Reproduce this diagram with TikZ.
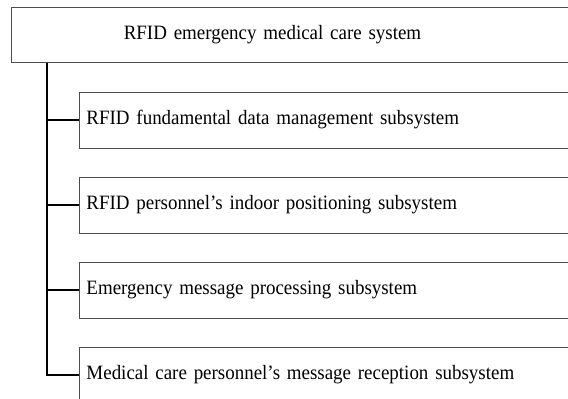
\documentclass[tikz,border=0pt]{standalone}
\usepackage{fontspec}
\setmainfont[FakeStretch=0.93]{Liberation Serif}
\usepackage{tikz}

% box text: slightly tighter word spacing
\newcommand\boxfont{\fontsize{14.5}{17}\selectfont\setlength{\spaceskip}{0.17em plus 0.05em}}

\begin{document}
\begin{tikzpicture}
	[every node/.style={rectangle,draw=black!70,line width=0.7pt,inner xsep=0.175cm,
		minimum height=1.4cm,font=\boxfont},
	subbox/.style={anchor=west,text width=14cm,align=left},
	sysbox/.style={anchor=north west,text width=14.5cm,align=left,minimum height=1.375cm},
	link/.style={line width=1pt,black}]
	\useasboundingbox (0,0) rectangle (14.2,-9.95);
	\clip (0,0) rectangle (14.2,-9.95);
	\node (sys) [sysbox] at (0.275,-0.175) {\makebox[12.7cm]{RFID emergency medical care system}};
	\node (s1) [subbox] at (1.975,-3.0) {RFID fundamental data management subsystem};
	\node (s2) [subbox] at (1.975,-5.125) {RFID personnel's indoor positioning subsystem};
	\node (s3) [subbox] at (1.975,-7.25) {Emergency message processing subsystem};
	\node (s4) [subbox] at (1.975,-9.375) {Medical care personnel's message reception subsystem};
	\coordinate (root) at ([xshift=0.9cm]sys.south west);
	\draw [link,line width=1.3pt] (root) |- (s4.west);
	\foreach \s in {s1,s2,s3}
		\draw [link] (root |- \s.west) -- (\s.west);
\end{tikzpicture}
\end{document}
